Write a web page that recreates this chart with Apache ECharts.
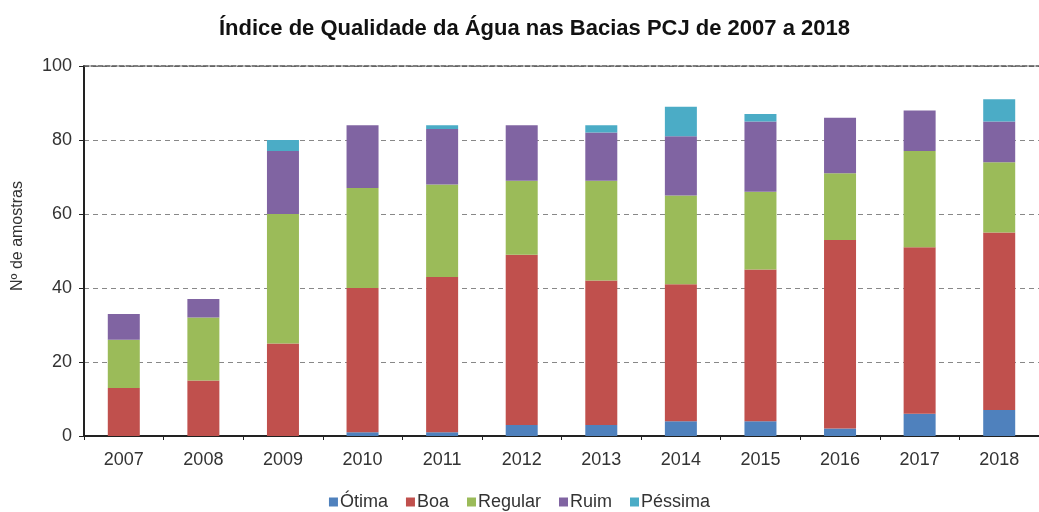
<!DOCTYPE html>
<html>
<head>
<meta charset="utf-8">
<script src="https://cdn.jsdelivr.net/npm/echarts@6/dist/echarts.min.js"></script>
<style>html,body{margin:0;padding:0;background:#fff}#c{width:1039px;height:512px}</style>
</head>
<body>
<div id="c"></div>
<script>
const categories = ['2007','2008','2009','2010','2011','2012','2013','2014','2015','2016','2017','2018'];
const otima    = [0, 0, 0, 1, 1, 3, 3, 4, 4, 2, 6, 7];
const boa      = [13, 15, 25, 39, 42, 46, 39, 37, 41, 51, 45, 48];
const regular  = [13, 17, 35, 27, 25, 20, 27, 24, 21, 18, 26, 19];
const ruim     = [7, 5, 17, 17, 15, 15, 13, 16, 19, 15, 11, 11];
const pessima  = [0, 0, 3, 0, 1, 0, 2, 8, 2, 0, 0, 6];
const yTicks = [0, 20, 40, 60, 80, 100];

const names = ['Ótima','Boa','Regular','Ruim','Péssima'];
const colors = ['#4F81BD','#C0504D','#9BBB59','#8064A2','#4BACC6'];
const values = [otima, boa, regular, ruim, pessima];
const font = 'Liberation Sans, Arial, sans-serif';

const chart = echarts.init(document.getElementById('c'), null, {renderer:'canvas'});
chart.setOption({
  animation: false,
  backgroundColor: '#fff',
  title: {
    text: 'Índice de Qualidade da Água nas Bacias PCJ de 2007 a 2018',
    left: 214, top: 13,
    textStyle: {fontFamily: font, fontSize: 22, fontWeight: 'bold', color: '#111'}
  },
  legend: {
    top: 488, left: 'center',
    itemWidth: 9, itemHeight: 9, itemGap: 18,
    icon: 'rect',
    textStyle: {fontFamily: font, fontSize: 18, color: '#333', padding: [0,0,0,-3]},
    data: names
  },
  grid: {left: 84, top: 66, bottom: 76, width: 966, containLabel: false},
  xAxis: [{
    type: 'category', data: categories,
    axisLine: {lineStyle: {color: '#222', width: 2}},
    axisTick: {show: true, length: 4, lineStyle: {color: '#222'}},
    axisLabel: {fontFamily: font, fontSize: 18, color: '#333', margin: 15}
  }, {
    type: 'category', data: categories, position: 'top',
    axisLine: {show: true, lineStyle: {color: '#555', width: 1.5, type: [5,2]}},
    axisTick: {show: false}, axisLabel: {show: false}
  }],
  yAxis: {
    type: 'value', min: 0, max: 100, interval: 20,
    name: 'Nº de amostras', nameLocation: 'middle', nameGap: 58, nameRotate: 90,
    nameTextStyle: {fontFamily: font, fontSize: 16, color: '#333', padding: [0,0,0,30]},
    axisLine: {show: true, lineStyle: {color: '#222', width: 2}},
    axisTick: {show: true, length: 5, lineStyle: {color: '#222'}},
    axisLabel: {fontFamily: font, fontSize: 18, color: '#333', margin: 12,
      formatter: v => yTicks.includes(v) ? String(v) : ''},
    splitLine: {show: true, lineStyle: {color: '#888', type: [5,4], width: 1}}
  },
  series: names.map((n, i) => ({
    name: n, type: 'bar', stack: 'total', barWidth: 32,
    itemStyle: {color: colors[i]},
    data: values[i]
  }))
});
</script>
</body>
</html>
